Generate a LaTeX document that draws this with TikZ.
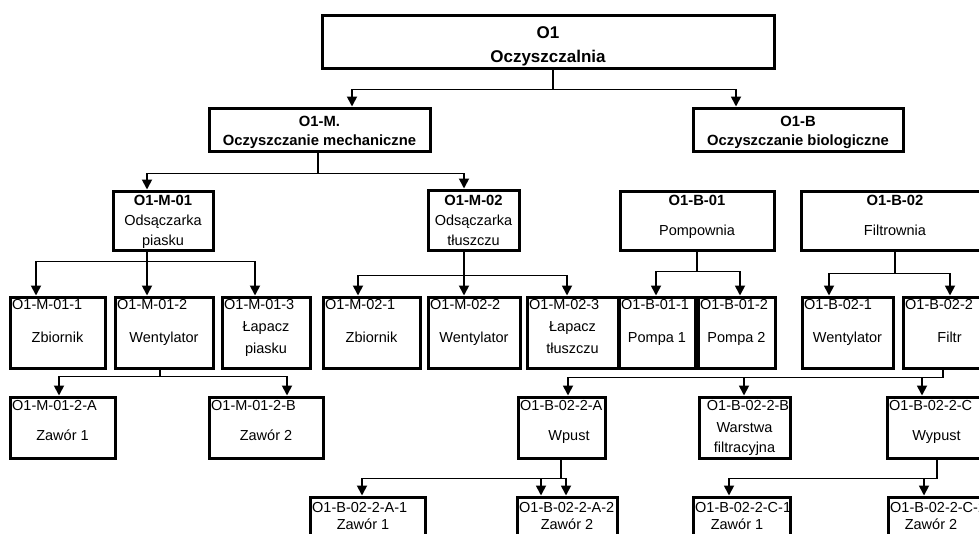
\documentclass[tikz,border=0pt]{standalone}
\usepackage{fontspec}
\setmainfont{Liberation Sans}
\usetikzlibrary{arrows.meta}
\tikzset{
  unitbox/.style={draw, line width=3pt, inner sep=0pt},
  wire/.style   ={line width=1.8pt},
  arr/.style    ={wire, -{Triangle[length=10pt,width=10pt]}},
  lbl/.style    ={inner sep=0pt, anchor=base, font=\fontsize{14.5}{17}\selectfont},
  head/.style   ={inner sep=0pt, anchor=base, font=\fontsize{14.8}{17}\selectfont\bfseries},
  title/.style  ={inner sep=0pt, anchor=base, font=\fontsize{17}{20}\selectfont\bfseries},
  code/.style   ={lbl, anchor=base west},
}

\begin{document}
\begin{tikzpicture}[x=1pt, y=-1pt]
  \fill[white] (0,0) rectangle (979,533);
  \useasboundingbox (0,0) rectangle (979,533);
  \clip (0,0) rectangle (979,533);
  % level 0 and 1
  \node[unitbox, minimum width=452pt, minimum height=53pt] (o1) at (548,41.5) {};
  \node[title] (o1-a) at (548,38) {O1};
  \node[title] (o1-b) at (548,62) {Oczyszczalnia};
  \node[unitbox, minimum width=221pt, minimum height=43pt] (m) at (319.5,129.5) {};
  \node[head] (m-a) at (319.5,126) {O1-M.};
  \node[head] (m-b) at (319.5,145) {Oczyszczanie mechaniczne};
  \node[unitbox, minimum width=210pt, minimum height=43pt] (b) at (798,129.5) {};
  \node[head] (b-a) at (798,126) {O1-B};
  \node[head] (b-b) at (798,145) {Oczyszczanie biologiczne};
  % level 2
  \node[unitbox, minimum width=100pt, minimum height=59pt] (m01) at (163,220.5) {};
  \node[head] (m01-a) at (163,205) {O1-M-01};
  \node[lbl]  (m01-b) at (163,225) {Odsączarka};
  \node[lbl]  (m01-c) at (163,245) {piasku};
  \node[unitbox, minimum width=91pt, minimum height=60pt] (m02) at (473.5,220) {};
  \node[head] (m02-a) at (473.5,205) {O1-M-02};
  \node[lbl]  (m02-b) at (473.5,225) {Odsączarka};
  \node[lbl]  (m02-c) at (473.5,245) {tłuszczu};
  \node[unitbox, minimum width=154pt, minimum height=59pt] (b01) at (697,220.5) {};
  \node[head] (b01-a) at (697,205) {O1-B-01};
  \node[lbl]  (b01-b) at (697,235) {Pompownia};
  \node[unitbox, minimum width=188pt, minimum height=59pt] (b02) at (895,220.5) {};
  \node[head] (b02-a) at (895,205) {O1-B-02};
  \node[lbl]  (b02-b) at (895,235) {Filtrownia};
  % level 3
  \node[unitbox, minimum width=95pt, minimum height=71pt] (m011) at (57.5,332.5) {};
  \node[code] (m011-a) at (12,309) {O1-M-01-1};
  \node[lbl]  (m011-b) at (57.5,342) {Zbiornik};
  \node[unitbox, minimum width=98pt, minimum height=71pt] (m012) at (164,332.5) {};
  \node[code] (m012-a) at (117,309) {O1-M-01-2};
  \node[lbl]  (m012-b) at (164,342) {Wentylator};
  \node[unitbox, minimum width=88pt, minimum height=71pt] (m013) at (266,332.5) {};
  \node[code] (m013-a) at (224,309) {O1-M-01-3};
  \node[lbl]  (m013-b) at (266,331) {Łapacz};
  \node[lbl]  (m013-c) at (266,353) {piasku};
  \node[unitbox, minimum width=97pt, minimum height=71pt] (m021) at (371.5,332.5) {};
  \node[code] (m021-a) at (325,309) {O1-M-02-1};
  \node[lbl]  (m021-b) at (371.5,342) {Zbiornik};
  \node[unitbox, minimum width=92pt, minimum height=71pt] (m022) at (474,332.5) {};
  \node[code] (m022-a) at (430,309) {O1-M-02-2};
  \node[lbl]  (m022-b) at (474,342) {Wentylator};
  \node[unitbox, minimum width=91pt, minimum height=71pt] (m023) at (572.5,332.5) {};
  \node[code] (m023-a) at (529,309) {O1-M-02-3};
  \node[lbl]  (m023-b) at (572.5,331) {Łapacz};
  \node[lbl]  (m023-c) at (572.5,353) {tłuszczu};
  \node[unitbox, minimum width=76pt, minimum height=71pt] (b011) at (657,332.5) {};
  \node[code] (b011-a) at (621,309) {O1-B-01-1};
  \node[lbl]  (b011-b) at (657,342) {Pompa 1};
  \node[unitbox, minimum width=77pt, minimum height=71pt] (b012) at (736.5,332.5) {};
  \node[code] (b012-a) at (700,309) {O1-B-01-2};
  \node[lbl]  (b012-b) at (736.5,342) {Pompa 2};
  \node[unitbox, minimum width=91pt, minimum height=71pt] (b021) at (847.5,332.5) {};
  \node[code] (b021-a) at (804,309) {O1-B-02-1};
  \node[lbl]  (b021-b) at (847.5,342) {Wentylator};
  \node[unitbox, minimum width=93pt, minimum height=71pt] (b022) at (949.5,332.5) {};
  \node[code] (b022-a) at (905,309) {O1-B-02-2};
  \node[lbl]  (b022-b) at (949.5,342) {Filtr};
  % level 4
  \node[unitbox, minimum width=105pt, minimum height=61pt] (m012a) at (62.5,427.5) {};
  \node[code] (m012a-a) at (12,410) {O1-M-01-2-A};
  \node[lbl]  (m012a-b) at (62.5,440) {Zawór 1};
  \node[unitbox, minimum width=114pt, minimum height=61pt] (m012b) at (266,427.5) {};
  \node[code] (m012b-a) at (211,410) {O1-M-01-2-B};
  \node[lbl]  (m012b-b) at (266,440) {Zawór 2};
  \node[unitbox, minimum width=87pt, minimum height=61pt] (b022a) at (561.5,427.5) {};
  \node[code] (b022a-a) at (520,410) {O1-B-02-2-A};
  \node[lbl]  (b022a-b) at (569,440) {Wpust};
  \node[unitbox, minimum width=91pt, minimum height=61pt] (b022b) at (744.5,427.5) {};
  \node[lbl]  (b022b-a) at (748,410) {O1-B-02-2-B};
  \node[lbl]  (b022b-b) at (744.5,432) {Warstwa};
  \node[lbl]  (b022b-c) at (744.5,452) {filtracyjna};
  \node[unitbox, minimum width=99pt, minimum height=61pt] (b022c) at (936.5,427.5) {};
  \node[code] (b022c-a) at (889,410) {O1-B-02-2-C};
  \node[lbl]  (b022c-b) at (936.5,440) {Wypust};
  % level 5
  \node[unitbox, minimum width=115pt, minimum height=63pt] (a1) at (367.5,528.5) {};
  \node[code] (a1-a) at (312,512) {O1-B-02-2-A-1};
  \node[lbl]  (a1-b) at (363,529.5) {Zawór 1};
  \node[unitbox, minimum width=100pt, minimum height=63pt] (a2) at (567,528.5) {};
  \node[code] (a2-a) at (519,512) {O1-B-02-2-A-2};
  \node[lbl]  (a2-b) at (567,529.5) {Zawór 2};
  \node[unitbox, minimum width=97pt, minimum height=63pt] (c1) at (741.5,528.5) {};
  \node[code] (c1-a) at (695,512) {O1-B-02-2-C-1};
  \node[lbl]  (c1-b) at (737,529.5) {Zawór 1};
  \node[unitbox, minimum width=102pt, minimum height=63pt] (c2) at (939,528.5) {};
  \node[code] (c2-a) at (890,512) {O1-B-02-2-C-2};
  \node[lbl]  (c2-b) at (931,529.5) {Zawór 2};
  % connectors
  \coordinate (j-o1) at ([xshift=5pt,yshift=-20pt]o1.south);
  \draw[wire] (o1.south -| j-o1) -- (j-o1);
  \draw[arr] (j-o1) -| ([xshift=32.5pt]m.north);
  \draw[arr] (j-o1) -| ([xshift=-62pt]b.north);
  \coordinate (j-m) at ([xshift=-1.5pt,yshift=-21pt]m.south);
  \draw[wire] (m.south -| j-m) -- (j-m);
  \draw[arr] (j-m) -| ([xshift=-16pt]m01.north);
  \draw[arr] (j-m) -| ([xshift=-9.5pt]m02.north);
  \coordinate (j-m01) at ([xshift=-16pt,yshift=-10pt]m01.south);
  \draw[wire] (m01.south -| j-m01) -- (j-m01);
  \draw[arr] (j-m01) -| ([xshift=-21.5pt]m011.north);
  \draw[arr] (j-m01) -| ([xshift=-17pt]m012.north);
  \draw[arr] (j-m01) -| ([xshift=-11pt]m013.north);
  \coordinate (j-m02) at ([xshift=-9.5pt,yshift=-24pt]m02.south);
  \draw[wire] (m02.south -| j-m02) -- (j-m02);
  \draw[arr] (j-m02) -| ([xshift=-13.5pt]m021.north);
  \draw[arr] (j-m02) -| ([xshift=-10pt]m022.north);
  \draw[arr] (j-m02) -| ([xshift=-5.5pt]m023.north);
  \coordinate (j-b01) at ([yshift=-20pt]b01.south);
  \draw[wire] (b01.south) -- (j-b01);
  \draw[arr] (j-b01) -| ([xshift=-1pt]b011.north);
  \draw[arr] (j-b01) -| ([xshift=3.5pt]b012.north);
  \coordinate (j-b02) at ([yshift=-22pt]b02.south);
  \draw[wire] (b02.south) -- (j-b02);
  \draw[arr] (j-b02) -| ([xshift=-18.5pt]b021.north);
  \draw[arr] (j-b02) -| ([xshift=0.5pt]b022.north);
  \coordinate (j-m012) at ([xshift=-4pt,yshift=-7pt]m012.south);
  \draw[wire] (m012.south -| j-m012) -- (j-m012);
  \draw[arr] (j-m012) -| ([xshift=-3.5pt]m012a.north);
  \draw[arr] (j-m012) -| ([xshift=21pt]m012b.north);
  \coordinate (j-b022) at ([xshift=-6.5pt,yshift=-8pt]b022.south);
  \draw[wire] (b022.south -| j-b022) -- (j-b022);
  \draw[arr] (j-b022) -| ([xshift=6.5pt]b022a.north);
  \draw[arr] (j-b022) -| ([xshift=-0.5pt]b022b.north);
  \draw[arr] (j-b022) -| ([xshift=-14.5pt]b022c.north);
  \coordinate (j-b022a) at ([xshift=-0.5pt,yshift=-19pt]b022a.south);
  \draw[wire] (b022a.south -| j-b022a) -- (j-b022a);
  \draw[arr] (j-b022a) -| ([xshift=-5.5pt]a1.north);
  \draw[arr] (j-b022a) -| ([xshift=-26pt]a2.north);
  \draw[arr] (j-b022a) -| ([xshift=-1pt]a2.north);
  \coordinate (j-b022c) at ([xshift=0.5pt,yshift=-19pt]b022c.south);
  \draw[wire] (b022c.south -| j-b022c) -- (j-b022c);
  \draw[arr] (j-b022c) -| ([xshift=-12.5pt]c1.north);
  \draw[arr] (j-b022c) -| ([xshift=-15pt]c2.north);
\end{tikzpicture}
\end{document}
